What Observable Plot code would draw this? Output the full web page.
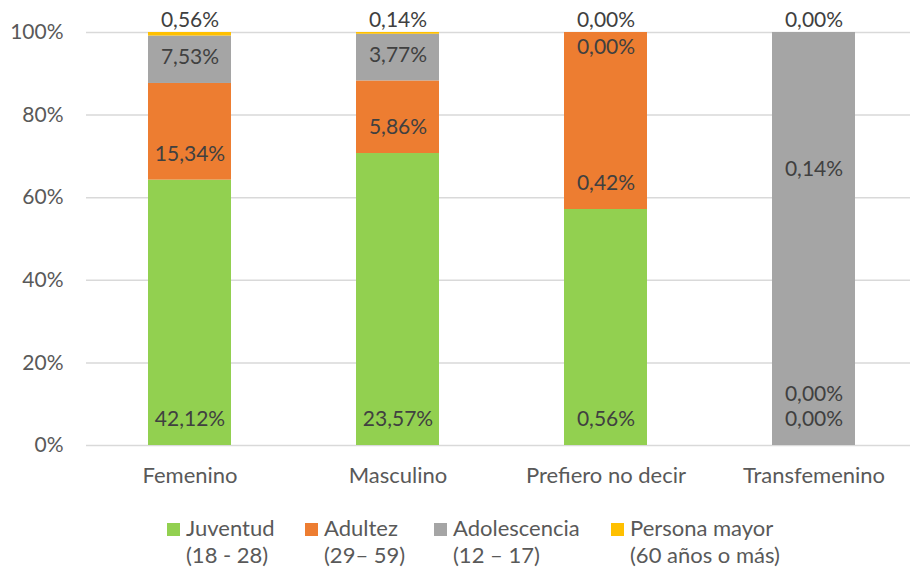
<!DOCTYPE html>
<html>
<head>
<meta charset="utf-8">
<script src="https://cdn.jsdelivr.net/npm/d3@7"></script>
<script src="https://cdn.jsdelivr.net/npm/@observablehq/plot@0.6"></script>
<style>
  html, body { margin: 0; padding: 0; background: #fff; }
  #wrap { width: 910px; height: 569px; position: relative; font-family: Lato, "Open Sans", sans-serif; }
  #wrap svg { display: block; }
  #legend { position: relative; height: 69px; font-size: 22px; color: #595959; }
  .item { position: absolute; top: 14px; line-height: 27px; }
  .sw { position: absolute; left: 0; top: 9px; width: 13px; height: 13px; }
  .txt { position: absolute; left: 19px; top: 0; white-space: nowrap; }
</style>
</head>
<body>
<div id="wrap"><div id="chart"></div><div id="legend"></div></div>
<script>
const categories = ["Femenino", "Masculino", "Prefiero no decir", "Transfemenino"];
const seriesNames = ["Juventud", "Adultez", "Adolescencia", "Persona mayor"];
const seriesRanges = ["(18 - 28)", "(29– 59)", "(12 – 17)", "(60 años o más)"];
const juventud = [42.12, 23.57, 0.56, 0.00];
const adultez = [15.34, 5.86, 0.42, 0.00];
const adolescencia = [7.53, 3.77, 0.00, 0.14];
const personaMayor = [0.56, 0.14, 0.00, 0.00];
const yTicks = [0, 0.2, 0.4, 0.6, 0.8, 1];
const colors = ["#92d050", "#ed7d31", "#a5a5a5", "#ffc000"];

const seriesValues = [juventud, adultez, adolescencia, personaMayor];
const rows = [];
categories.forEach((c, ci) => seriesNames.forEach((s, si) => rows.push({cat: c, series: s, value: seriesValues[si][ci]})));

const W = 910, H = 500, mT = 32, mB = 55, mL = 86;
const plotH = H - mT - mB;
const fmt = v => v.toFixed(2).replace(".", ",") + "%";

// label placement (Excel-like "inside base", with simple collision handling)
const labels = [];
categories.forEach((c, ci) => {
  const vals = seriesValues.map(a => a[ci]);
  const total = d3.sum(vals);
  let cum = 0, prev = null;
  vals.forEach((v, si) => {
    const h = total ? v / total : 0;
    const base = cum; cum += h;
    let y;
    if (si === vals.length - 1) {
      y = 1 + 12 / plotH;
    } else if (h === 0 && base >= 0.999) {
      y = 1 - 15 / plotH;
    } else {
      y = base + 26 / plotH;
      if (prev !== null && Math.abs(y - prev) < 26 / plotH) {
        y = h > 0 ? base + h * 0.67 : prev + 25 / plotH;
      }
    }
    prev = y;
    labels.push({cat: c, y, label: fmt(v)});
  });
});

const chart = Plot.plot({
  width: W, height: H,
  marginTop: mT, marginBottom: mB, marginLeft: mL, marginRight: 0,
  style: {fontFamily: "Lato, 'Open Sans', sans-serif", fontSize: "21px", color: "#595959", background: "white", overflow: "visible"},
  x: {domain: categories, range: [86, 918], paddingInner: 0.6, paddingOuter: 0.3, label: null},
  y: {domain: [0, 1], label: null},
  color: {domain: seriesNames, range: colors},
  marks: [
    Plot.ruleY(yTicks, {stroke: "#d9d9d9", strokeWidth: 1.5}),
    Plot.barY(rows, Plot.stackY({offset: "normalize", x: "cat", y: "value", z: "series", fill: "series", order: null})),
    Plot.text(labels, {x: "cat", y: "y", text: "label", fill: "#404040", fontSize: 21}),
    Plot.axisY({ticks: yTicks, tickFormat: d => Math.round(d * 100) + "%", tickSize: 0, tickPadding: 23, fontSize: 21, label: null}),
    Plot.axisX({tickSize: 0, tickPadding: 22, fontSize: 22, label: null})
  ]
});
document.getElementById("chart").appendChild(chart);

const legend = document.getElementById("legend");
const lefts = [167, 305, 434, 611];
seriesNames.forEach((s, i) => {
  const it = document.createElement("div");
  it.className = "item";
  it.style.left = lefts[i] + "px";
  it.innerHTML = `<div class="sw" style="background:${colors[i]}"></div><div class="txt">${s}<br>${seriesRanges[i]}</div>`;
  legend.appendChild(it);
});
</script>
</body>
</html>
